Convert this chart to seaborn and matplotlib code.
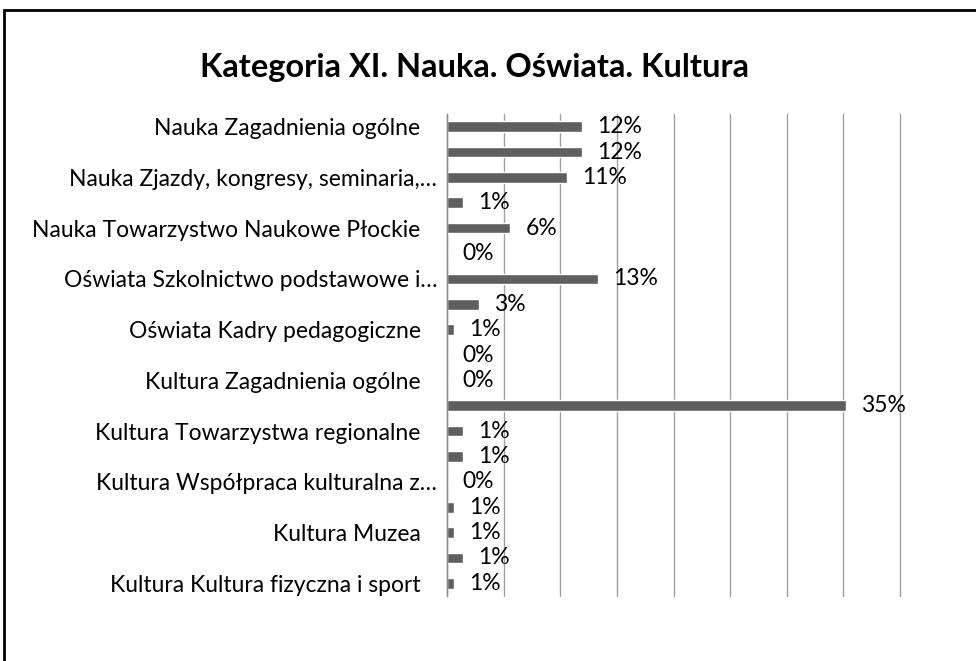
import numpy as np
import pandas as pd
import matplotlib
matplotlib.use("Agg")
import matplotlib.pyplot as plt
import seaborn as sns
from matplotlib.patches import Rectangle
from matplotlib.transforms import ScaledTranslation

title = "Kategoria XI. Nauka. Oświata. Kultura"
categories = [
    "Nauka Zagadnienia ogólne", "",
    "Nauka Zjazdy, kongresy, seminaria,…", "",
    "Nauka Towarzystwo Naukowe Płockie", "",
    "Oświata Szkolnictwo podstawowe i…", "",
    "Oświata Kadry pedagogiczne", "",
    "Kultura Zagadnienia ogólne", "",
    "Kultura Towarzystwa regionalne", "",
    "Kultura Współpraca kulturalna z…", "",
    "Kultura Muzea", "",
    "Kultura Kultura fizyczna i sport",
]
values = [11.9, 11.9, 10.6, 1.4, 5.6, 0.0, 13.3, 2.8, 0.6, 0.0,
          0.0, 35.2, 1.4, 1.4, 0.0, 0.6, 0.6, 1.4, 0.6]
value_labels = [f"{v:.0f}%" for v in values]

sns.set_theme(style="white")
plt.rcParams["font.family"] = ["Lato", "DejaVu Sans"]

W, H = 976, 661
fig = plt.figure(figsize=(W / 100, H / 100), dpi=100)
fig.patch.set_facecolor("white")
ax = fig.add_axes([447 / W, 1 - 596 / H, (900 - 447) / W, (596 - 114) / H])

df = pd.DataFrame({"row": np.arange(len(values)), "value": values})
sns.barplot(data=df, x="value", y="row", orient="h", color="#5f5f5f",
            saturation=1, width=0.42, ax=ax)

ax.set_xlim(0, 40)
ax.set_ylim(len(values) - 0.5, -0.5)
ax.set_xticks(np.arange(0, 41, 5))
ax.tick_params(axis="x", length=0, labelbottom=False)
ax.set_xlabel("")
ax.set_ylabel("")
ax.grid(axis="x", color="#a0a0a0", lw=1)
ax.grid(axis="y", visible=False)
for gl in ax.get_xgridlines():
    gl.set_clip_on(False)
ax.set_axisbelow(True)
for s in ["top", "right", "bottom"]:
    ax.spines[s].set_visible(False)
ax.spines["left"].set_color("#8c8c8c")
ax.spines["left"].set_linewidth(1)

ax.set_yticks(np.arange(len(values)))
ax.set_yticklabels(categories, fontsize=16.5, color="black")
ax.tick_params(axis="y", which="major", length=0, pad=19)
ax.set_yticks(np.arange(-0.5, len(values), 1), minor=True)
ax.tick_params(axis="y", which="minor", length=6, width=1, color="#8c8c8c", direction="out")
for lab in ax.get_yticklabels():
    if lab.get_text().endswith("…"):
        lab.set_transform(lab.get_transform() + ScaledTranslation(12 / 72, 0, fig.dpi_scale_trans))

ax.bar_label(ax.containers[0], labels=value_labels, padding=11, fontsize=16.5, color="black")

fig.text(474 / W, 1 - 68 / H, title, ha="center", va="center",
         fontsize=23.5, fontweight="bold", color="black")

fig.add_artist(Rectangle((4 / W, -0.2), 1.5, (H - 10) / H + 0.2, transform=fig.transFigure,
                         fill=False, lw=2, ec="black"))

fig.savefig("out.png", dpi=100, facecolor="white")
